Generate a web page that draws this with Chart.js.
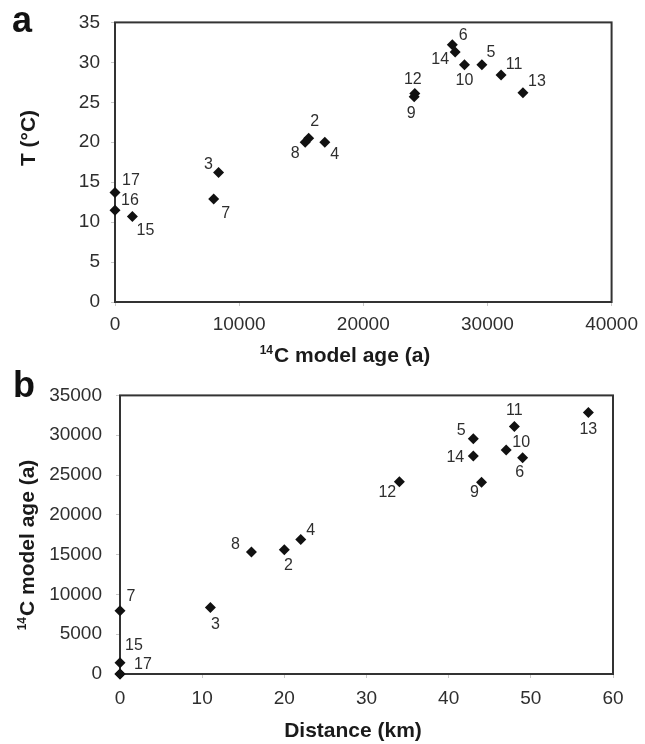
<!DOCTYPE html>
<html>
<head>
<meta charset="utf-8">
<script src="https://cdn.jsdelivr.net/npm/chart.js@4/dist/chart.umd.min.js"></script>
<style>
  html, body { margin: 0; padding: 0; background: #fff; }
  body { width: 645px; height: 744px; position: relative; overflow: hidden; }
  canvas { position: absolute; left: 0; }
</style>
</head>
<body>
<canvas id="ca" width="645" height="370" style="top:0"></canvas>
<canvas id="cb" width="645" height="374" style="top:370px"></canvas>
<script>
// ---- data ----
const pointIds  = [2, 3, 4, 5, 6, 7, 8, 9, 10, 11, 12, 13, 14, 15, 16, 17];
const ages      = [15600, 8340, 16900, 29550, 27170, 7950, 15320, 24100, 28150, 31100, 24150, 32860, 27400, 1400, 0, 0];
const temps     = [20.5, 16.2, 20.0, 29.7, 32.2, 12.9, 20.0, 25.7, 29.7, 28.4, 26.1, 26.2, 31.3, 10.7, 11.5, 13.7];
const distances = [20, 11, 22, 43, 49, 0, 16, 44, 47, 48, 34, 57, 43, 0, 0, 0];

// tick labels
const tempTicks  = [0, 5, 10, 15, 20, 25, 30, 35];
const ageTicksA  = [0, 10000, 20000, 30000, 40000];
const ageTicksB  = [0, 5000, 10000, 15000, 20000, 25000, 30000, 35000];
const distTicks  = [0, 10, 20, 30, 40, 50, 60];

// ---- styling / label placement ----
const FONT = "'Liberation Sans', Arial, Helvetica, sans-serif";
const TXT = '#2e2e2e';

const offsetsA = {
  17: [16, -12], 16: [15, -10], 15: [13, 14], 3: [-10, -8], 7: [12, 15],
  8: [-10, 11], 2: [6, -17], 4: [10, 12], 6: [11, -9], 14: [-15, 8],
  10: [0, 16], 5: [9, -12], 11: [13, -11], 13: [14, -11], 12: [-2, -14], 9: [-3, 17]
};
const offsetsB = {
  7: [11, -14], 15: [14, -17], 17: [23, -9], 3: [5, 17], 8: [-16, -7],
  2: [4, 16], 4: [10, -9], 12: [-12, 11], 9: [-7, 10], 5: [-12, -8],
  14: [-18, 2], 10: [15, -7], 6: [-3, 15], 11: [0, -16], 13: [0, 17]
};

const decor = {
  id: 'decor',
  beforeDatasetsDraw(chart, args, o) {
    const ctx = chart.ctx, a = chart.chartArea;
    ctx.save();
    ctx.strokeStyle = '#333';
    ctx.lineWidth = 2;
    ctx.strokeRect(a.left, a.top, a.right - a.left, a.bottom - a.top);
    ctx.restore();
  },
  afterDatasetsDraw(chart, args, o) {
    const ctx = chart.ctx;
    ctx.save();
    // point labels
    const meta = chart.getDatasetMeta(0);
    ctx.font = '16px ' + FONT;
    ctx.fillStyle = TXT;
    ctx.textAlign = 'center';
    ctx.textBaseline = 'middle';
    meta.data.forEach((el, i) => {
      const off = o.offsets[pointIds[i]];
      if (!off) return;
      ctx.fillText(String(pointIds[i]), el.x + off[0], el.y + off[1]);
    });
    // panel letter
    ctx.font = 'bold 36px ' + FONT;
    ctx.fillStyle = '#111';
    ctx.textAlign = 'left';
    ctx.textBaseline = 'alphabetic';
    ctx.fillText(o.letter, o.letterPos[0], o.letterPos[1]);
    // axis titles
    drawTitle(ctx, o.xTitle, o.xPos[0], o.xPos[1], 0);
    drawTitle(ctx, o.yTitle, o.yPos[0], o.yPos[1], -Math.PI / 2);
    ctx.restore();
  }
};

function drawTitle(ctx, t, cx, cy, rot) {
  ctx.save();
  ctx.translate(cx, cy);
  ctx.rotate(rot);
  ctx.fillStyle = '#1a1a1a';
  ctx.textBaseline = 'alphabetic';
  ctx.textAlign = 'left';
  const main = 'bold 21px ' + FONT, sup = 'bold 12px ' + FONT;
  ctx.font = sup;
  const ws = t.sup ? ctx.measureText(t.sup).width + 1 : 0;
  ctx.font = main;
  const wm = ctx.measureText(t.text).width;
  const x0 = -(ws + wm) / 2;
  const base = 7;
  if (t.sup) {
    ctx.font = sup;
    ctx.fillText(t.sup, x0, base - 8);
  }
  ctx.font = main;
  ctx.fillText(t.text, x0 + ws, base);
  ctx.restore();
}

function axis(ticksArr, min, max, opts) {
  return {
    type: 'linear',
    min: min, max: max,
    afterBuildTicks: s => { s.ticks = ticksArr.map(v => ({ value: v })); },
    afterFit: s => { if (opts.w !== undefined) s.width = opts.w; if (opts.h !== undefined) s.height = opts.h; },
    grid: { display: true, drawOnChartArea: false, drawTicks: true, tickLength: 4, color: '#c8c8c8' },
    border: { display: false },
    ticks: {
      autoSkip: false, maxRotation: 0, padding: opts.pad,
      color: TXT, font: { family: FONT, size: 19 },
      callback: v => String(v)
    }
  };
}

function makeChart(id, xs, ys, xTicks, xMax, yTicks, yMax, cfg) {
  return new Chart(document.getElementById(id), {
    type: 'scatter',
    data: {
      datasets: [{
        data: xs.map((x, i) => ({ x: x, y: ys[i] })),
        pointStyle: 'rectRot',
        pointRadius: 5.5,
        pointHoverRadius: 5.5,
        backgroundColor: '#111',
        borderColor: '#111',
        borderWidth: 0,
        clip: false
      }]
    },
    options: {
      responsive: false,
      animation: false,
      events: [],
      layout: { padding: cfg.padding },
      plugins: { legend: { display: false }, tooltip: { enabled: false }, decor: cfg.decor },
      scales: {
        x: axis(xTicks, 0, xMax, { h: cfg.xh, pad: cfg.xpad }),
        y: axis(yTicks, 0, yMax, { w: cfg.yw, pad: cfg.ypad })
      }
    },
    plugins: [decor]
  });
}

makeChart('ca', ages, temps, ageTicksA, 40000, tempTicks, 35, {
  padding: { top: 20, right: 31, bottom: 0, left: 0 },
  xh: 68, yw: 115, xpad: 7, ypad: 11,
  decor: {
    offsets: offsetsA, letter: 'a', letterPos: [12, 32],
    xTitle: { sup: '14', text: 'C model age (a)' }, xPos: [345, 355],
    yTitle: { text: 'T (°C)' }, yPos: [28, 138]
  }
});

makeChart('cb', distances, ages, distTicks, 60, ageTicksB, 35000, {
  padding: { top: 17, right: 32, bottom: 0, left: 0 },
  xh: 70, yw: 120, xpad: 9, ypad: 14,
  decor: {
    offsets: offsetsB, letter: 'b', letterPos: [13, 27],
    xTitle: { text: 'Distance (km)' }, xPos: [353, 360],
    yTitle: { sup: '14', text: 'C model age (a)' }, yPos: [27, 175]
  }
});
</script>
</body>
</html>
